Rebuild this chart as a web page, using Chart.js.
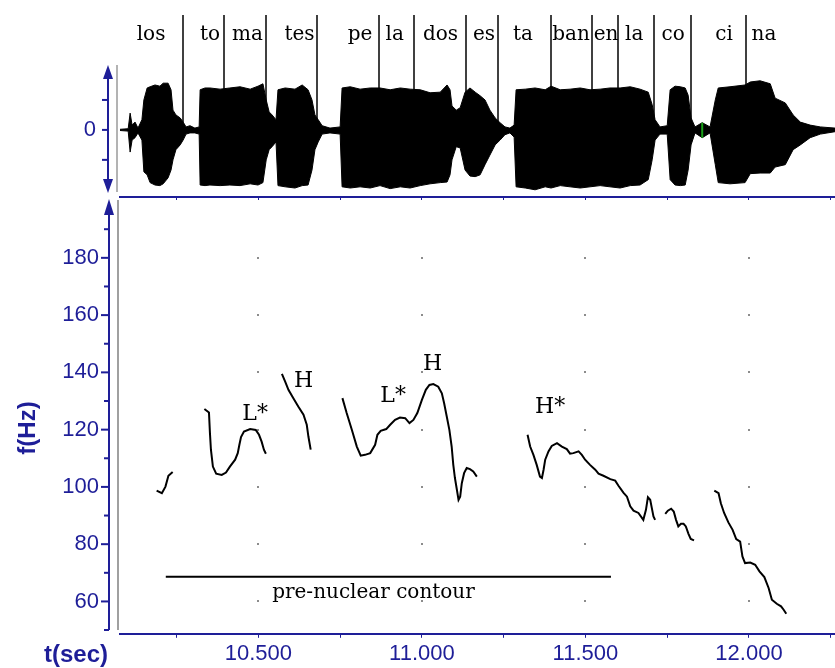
<!DOCTYPE html>
<html lang="es">
<head>
<meta charset="UTF-8">
<title>los tomates pelados estaban en la cocina - F0</title>
<script src="https://cdn.jsdelivr.net/npm/chart.js@4.4.1/dist/chart.umd.min.js"></script>
<style>
  body { margin: 0; background: #fff; }
  #wrap { position: relative; width: 835px; height: 668px; }
  canvas { position: absolute; left: 0; top: 0; }
</style>
</head>
<body>
<div id="wrap">
  <canvas id="f0Chart" width="835" height="668"></canvas>
  <canvas id="waveChart" width="835" height="200"></canvas>
</div>

<script>
// ---- data ----
const xMin = 10.077, xMax = 12.263;
const xTickVals = [10.25, 10.5, 10.75, 11, 11.25, 11.5, 11.75, 12, 12.25];
const yTickVals = [60, 80, 100, 120, 140, 160, 180];
const yMinorVals = [70, 90, 110, 130, 150, 170, 190];

// syllables and their boundaries (s)
const sylText = ['los', 'to', 'ma', 'tes', 'pe', 'la', 'dos', 'es', 'ta', 'ban', 'en', 'la', 'co', 'ci', 'na'];
const sylT = [10.172, 10.352, 10.467, 10.626, 10.811, 10.917, 11.057, 11.190, 11.309, 11.456, 11.563, 11.649, 11.768, 11.924, 12.046];
const boundT = [10.270, 10.395, 10.523, 10.679, 10.870, 10.977, 11.134, 11.232, 11.395, 11.521, 11.600, 11.711, 11.824, 11.991];

// waveform envelope (relative amplitude)
const waveT = [10.077, 10.102, 10.108, 10.114, 10.123, 10.132, 10.144, 10.150, 10.160, 10.169,
  10.184, 10.199, 10.209, 10.224, 10.233, 10.239, 10.248, 10.261, 10.270, 10.279,
  10.291, 10.306, 10.319, 10.322, 10.337, 10.352, 10.383, 10.413, 10.444, 10.475,
  10.499, 10.514, 10.524, 10.533, 10.542, 10.554, 10.560, 10.582, 10.612, 10.634,
  10.652, 10.664, 10.673, 10.683, 10.695, 10.719, 10.750, 10.756, 10.781, 10.811,
  10.842, 10.872, 10.903, 10.934, 10.964, 10.995, 11.025, 11.056, 11.077, 11.086,
  11.092, 11.105, 11.117, 11.132, 11.147, 11.163, 11.178, 11.193, 11.208, 11.224,
  11.239, 11.254, 11.269, 11.282, 11.288, 11.316, 11.346, 11.377, 11.395, 11.423,
  11.453, 11.484, 11.514, 11.545, 11.575, 11.606, 11.637, 11.667, 11.692, 11.704,
  11.713, 11.728, 11.750, 11.759, 11.774, 11.790, 11.805, 11.814, 11.823, 11.835,
  11.857, 11.881, 11.897, 11.906, 11.942, 11.988, 12.004, 12.034, 12.065, 12.080,
  12.111, 12.135, 12.157, 12.187, 12.218, 12.263];
const waveTop = [0.01, 0.02, 0.28, 0.08, 0.13, 0.03, 0.17, 0.5, 0.7, 0.72,
  0.75, 0.73, 0.78, 0.78, 0.67, 0.33, 0.25, 0.2, 0.13, 0.05,
  0.07, 0.03, 0.05, 0.67, 0.7, 0.7, 0.68, 0.7, 0.72, 0.68,
  0.73, 0.77, 0.5, 0.3, 0.25, 0.17, 0.67, 0.7, 0.68, 0.75,
  0.67, 0.5, 0.25, 0.17, 0.07, 0.03, 0.05, 0.7, 0.72, 0.68,
  0.7, 0.7, 0.67, 0.7, 0.68, 0.67, 0.62, 0.63, 0.75, 0.67,
  0.4, 0.33, 0.37, 0.63, 0.7, 0.63, 0.57, 0.5, 0.33, 0.2,
  0.12, 0.05, 0.03, 0.08, 0.67, 0.68, 0.7, 0.67, 0.73, 0.67,
  0.68, 0.7, 0.67, 0.68, 0.7, 0.7, 0.72, 0.68, 0.63, 0.42,
  0.17, 0.05, 0.07, 0.67, 0.73, 0.72, 0.7, 0.58, 0.2, 0.05,
  0.12, 0.05, 0.5, 0.7, 0.72, 0.75, 0.8, 0.82, 0.77, 0.53,
  0.45, 0.25, 0.13, 0.08, 0.05, 0.03];
const waveBottom = [-0.01, -0.02, -0.37, -0.17, -0.13, -0.05, -0.17, -0.7, -0.75, -0.88,
  -0.92, -0.93, -0.9, -0.8, -0.67, -0.5, -0.33, -0.25, -0.17, -0.07,
  -0.05, -0.05, -0.07, -0.92, -0.93, -0.92, -0.93, -0.92, -0.93, -0.9,
  -0.92, -0.88, -0.5, -0.33, -0.28, -0.2, -0.93, -0.95, -0.97, -0.93,
  -0.92, -0.67, -0.33, -0.2, -0.07, -0.05, -0.07, -0.95, -0.97, -0.95,
  -0.97, -0.93, -0.98, -0.95, -0.97, -0.93, -0.9, -0.88, -0.87, -0.75,
  -0.5, -0.28, -0.3, -0.67, -0.77, -0.78, -0.75, -0.58, -0.42, -0.25,
  -0.17, -0.08, -0.05, -0.12, -0.95, -0.97, -1.0, -0.95, -0.97, -0.93,
  -0.95, -0.97, -0.95, -0.93, -0.95, -0.97, -0.93, -0.92, -0.83, -0.5,
  -0.17, -0.07, -0.07, -0.83, -0.92, -0.93, -0.92, -0.67, -0.25, -0.05,
  -0.13, -0.05, -0.58, -0.88, -0.9, -0.88, -0.73, -0.72, -0.72, -0.62,
  -0.58, -0.33, -0.25, -0.13, -0.07, -0.03];
const cursorT = 11.857;

// F0 contour segments (s, Hz)
const losT = [10.189, 10.205, 10.216, 10.225, 10.238];
const losHz = [98.7, 97.8, 100.1, 103.9, 105.2];
const tomaT = [10.335, 10.349, 10.352, 10.355, 10.361, 10.371, 10.388, 10.401, 10.413, 10.429,
  10.437, 10.442, 10.447, 10.456, 10.475, 10.492, 10.502, 10.510, 10.517, 10.523];
const tomaHz = [127.2, 126.0, 118.8, 113.0, 107.1, 104.6, 104.2, 105.0, 107.1, 109.5,
  111.8, 114.7, 117.4, 119.3, 120.2, 119.9, 118.2, 115.8, 113.0, 111.6];
const tesT = [10.572, 10.582, 10.592, 10.607, 10.622, 10.638, 10.648, 10.653, 10.660];
const tesHz = [139.5, 136.8, 133.9, 131.0, 128.1, 125.2, 121.7, 117.6, 113.0];
const peladosT = [10.757, 10.770, 10.786, 10.801, 10.813, 10.826, 10.842, 10.857, 10.864, 10.874,
  10.891, 10.903, 10.918, 10.933, 10.949, 10.962, 10.974, 10.986, 11.000, 11.012,
  11.023, 11.035, 11.050, 11.061, 11.068, 11.076, 11.084, 11.091, 11.096, 11.101,
  11.107, 11.112, 11.117, 11.122, 11.129, 11.137, 11.147, 11.157, 11.168];
const peladosHz = [131.0, 125.8, 119.9, 114.1, 110.9, 111.2, 111.8, 114.7, 118.2, 119.6,
  120.2, 121.7, 123.4, 124.2, 124.0, 122.3, 123.4, 125.8, 130.4, 133.9,
  135.6, 135.9, 135.0, 132.7, 129.2, 124.6, 119.9, 114.1, 107.7, 103.1,
  99.0, 95.5, 96.6, 101.3, 104.8, 106.6, 106.2, 105.4, 103.6];
const tabanT = [11.323, 11.331, 11.341, 11.351, 11.361, 11.367, 11.372, 11.377, 11.387, 11.397,
  11.413, 11.428, 11.443, 11.453, 11.463, 11.479, 11.489, 11.499, 11.514, 11.530,
  11.540, 11.555, 11.576, 11.591, 11.601, 11.616, 11.627, 11.637, 11.647, 11.662,
  11.677, 11.685, 11.691, 11.698, 11.703, 11.708, 11.713];
const tabanHz = [118.2, 114.1, 111.2, 107.7, 103.6, 103.1, 106.0, 109.5, 112.4, 114.3,
  115.3, 114.1, 113.2, 111.6, 111.8, 112.4, 111.2, 109.5, 107.7, 106.0,
  104.6, 103.9, 102.7, 102.2, 100.4, 98.0, 96.6, 93.2, 91.7, 90.9,
  88.5, 92.0, 96.4, 95.5, 92.6, 89.7, 88.5];
const lacoT = [11.744, 11.752, 11.762, 11.770, 11.777, 11.784, 11.792, 11.800, 11.807, 11.815, 11.822, 11.832];
const lacoHz = [90.6, 91.7, 92.4, 91.4, 88.5, 86.2, 87.1, 87.1, 86.2, 83.6, 81.8, 81.3];
const cinaT = [11.894, 11.907, 11.914, 11.924, 11.937, 11.950, 11.961, 11.973, 11.980, 11.988,
  12.004, 12.019, 12.032, 12.047, 12.060, 12.070, 12.085, 12.098, 12.106, 12.114];
const cinaHz = [98.7, 97.8, 94.3, 90.9, 87.6, 85.0, 81.8, 80.9, 75.7, 73.4,
  73.6, 72.8, 70.5, 68.5, 64.7, 60.6, 59.2, 58.3, 57.1, 55.7];

// tone labels and pre-nuclear bracket
const toneText = ['L*', 'H', 'L*', 'H', 'H*'];
const toneT = [10.490, 10.638, 10.912, 11.033, 11.392];
const toneHz = [125.5, 137.0, 131.8, 143.0, 127.8];
const preT = [10.217, 11.578];
const preHz = 68.6;
const preLabel = 'pre-nuclear contour';
const preLabelT = 10.852, preLabelHz = 63.0;

// ---- styles ----
const blue = '#1e1e98';
const sans = '"Liberation Sans", Arial, sans-serif';
const serif = '"DejaVu Serif", serif';

const pts = (ts, vs) => ts.map((t, i) => ({ x: t, y: vs[i] }));

function seg(ts, vs) {
  return { data: pts(ts, vs), borderColor: '#000', borderWidth: 2, pointRadius: 0, fill: false, tension: 0 };
}

function line(ctx, x1, y1, x2, y2) {
  ctx.beginPath(); ctx.moveTo(x1, y1); ctx.lineTo(x2, y2); ctx.stroke();
}

function arrow(ctx, x, tipY, baseY) {
  ctx.beginPath();
  ctx.moveTo(x, tipY);
  ctx.lineTo(x - 5, baseY);
  ctx.lineTo(x + 5, baseY);
  ctx.closePath();
  ctx.fill();
}

// ---- top: waveform ----
const waveDecor = {
  id: 'waveDecor',
  afterDraw(chart) {
    const { ctx, scales: { x, y } } = chart;
    ctx.save();
    ctx.strokeStyle = '#9a9a9a'; ctx.lineWidth = 1.5;
    line(ctx, 117, 65, 117, 192);

    ctx.strokeStyle = '#000'; ctx.lineWidth = 1.5;
    boundT.forEach(t => {
      const px = Math.round(x.getPixelForValue(t));
      line(ctx, px, 15, px, y.getPixelForValue(0.12));
    });

    ctx.fillStyle = '#000';
    ctx.font = '20px ' + serif;
    ctx.textAlign = 'center'; ctx.textBaseline = 'alphabetic';
    sylText.forEach((s, i) => ctx.fillText(s, x.getPixelForValue(sylT[i]), 40));

    // amplitude axis
    ctx.strokeStyle = blue; ctx.fillStyle = blue; ctx.lineWidth = 2;
    line(ctx, 108, 70, 108, 188);
    arrow(ctx, 108, 65, 79);
    arrow(ctx, 108, 193, 179);
    [0.5, 0, -0.5].forEach(v => {
      const py = y.getPixelForValue(v);
      line(ctx, 102, py, 108, py);
    });
    ctx.font = '22px ' + sans;
    ctx.textAlign = 'right'; ctx.textBaseline = 'middle';
    ctx.fillText('0', 96, y.getPixelForValue(0));
    ctx.restore();
  }
};

new Chart(document.getElementById('waveChart'), {
  type: 'line',
  data: {
    datasets: [
      { data: [{ x: cursorT, y: 0.12 }, { x: cursorT, y: -0.13 }], borderColor: '#18a018', borderWidth: 2, pointRadius: 0, fill: false },
      { data: pts(waveT, waveTop), borderColor: '#000', backgroundColor: '#000', borderWidth: 1, pointRadius: 0, fill: '+1' },
      { data: pts(waveT, waveBottom), borderColor: '#000', borderWidth: 1, pointRadius: 0, fill: false }
    ]
  },
  options: {
    responsive: false,
    animation: false,
    layout: { padding: { top: 70, left: 0, right: 0, bottom: 0 } },
    plugins: { legend: { display: false }, tooltip: { enabled: false } },
    scales: {
      x: {
        type: 'linear', min: xMin, max: xMax,
        afterBuildTicks: s => { s.ticks = xTickVals.map(v => ({ value: v })); },
        ticks: { display: false },
        grid: { drawOnChartArea: false, drawTicks: true, tickLength: 3, color: blue },
        border: { color: blue, width: 2 },
        afterFit: s => { s.height = 3; }
      },
      y: {
        min: -1.12, max: 1,
        ticks: { display: false },
        grid: { display: false, drawTicks: false },
        border: { display: false },
        afterFit: s => { s.width = 120; }
      }
    }
  },
  plugins: [waveDecor]
});

// ---- bottom: F0 ----
const f0Decor = {
  id: 'f0Decor',
  beforeDatasetsDraw(chart) {
    const { ctx, scales: { x, y } } = chart;
    ctx.save();
    ctx.fillStyle = '#8c8c8c';
    [10.5, 11, 11.5, 12].forEach(tv => {
      yTickVals.forEach(hv => {
        ctx.fillRect(Math.round(x.getPixelForValue(tv)) - 1, Math.round(y.getPixelForValue(hv)) - 1, 2, 2);
      });
    });
    ctx.restore();
  },
  afterDraw(chart) {
    const { ctx, scales: { x, y } } = chart;
    ctx.save();
    ctx.strokeStyle = '#a0a0a0'; ctx.lineWidth = 2;
    line(ctx, 118, 200, 118, 630);

    // frequency axis
    ctx.strokeStyle = blue; ctx.fillStyle = blue; ctx.lineWidth = 2;
    line(ctx, 109, 205, 109, 630);
    arrow(ctx, 109, 199, 215);
    yTickVals.forEach(v => { const py = y.getPixelForValue(v); line(ctx, 101, py, 109, py); });
    yMinorVals.forEach(v => { const py = y.getPixelForValue(v); line(ctx, 104, py, 109, py); });
    line(ctx, 104, 630, 109, 630);

    ctx.font = 'bold 24px ' + sans;
    ctx.textAlign = 'center'; ctx.textBaseline = 'middle';
    ctx.fillText('t(sec)', 76, 655);
    ctx.save();
    ctx.translate(28, 428);
    ctx.rotate(-Math.PI / 2);
    ctx.fillText('f(Hz)', 0, 0);
    ctx.restore();

    ctx.fillStyle = '#000';
    ctx.font = '22px ' + serif;
    toneText.forEach((s, i) => ctx.fillText(s, x.getPixelForValue(toneT[i]), y.getPixelForValue(toneHz[i])));
    ctx.font = '20px ' + serif;
    ctx.fillText(preLabel, x.getPixelForValue(preLabelT), y.getPixelForValue(preLabelHz));
    ctx.restore();
  }
};

new Chart(document.getElementById('f0Chart'), {
  type: 'line',
  data: {
    datasets: [
      seg(losT, losHz),
      seg(tomaT, tomaHz),
      seg(tesT, tesHz),
      seg(peladosT, peladosHz),
      seg(tabanT, tabanHz),
      seg(lacoT, lacoHz),
      seg(cinaT, cinaHz),
      seg(preT, [preHz, preHz])
    ]
  },
  options: {
    responsive: false,
    animation: false,
    layout: { padding: { top: 200, left: 0, right: 0, bottom: 0 } },
    plugins: { legend: { display: false }, tooltip: { enabled: false } },
    scales: {
      x: {
        type: 'linear', min: xMin, max: xMax,
        afterBuildTicks: s => { s.ticks = xTickVals.map(v => ({ value: v })); },
        ticks: {
          color: blue, font: { family: sans, size: 22 }, padding: 3,
          maxRotation: 0, autoSkip: false,
          callback: v => (v % 0.5 === 0 ? v.toFixed(3) : '')
        },
        grid: { drawOnChartArea: false, drawTicks: true, tickLength: 4, color: blue },
        border: { color: blue, width: 2 },
        afterFit: s => { s.height = 34; }
      },
      y: {
        min: 48.7, max: 200.2,
        afterBuildTicks: s => { s.ticks = yTickVals.map(v => ({ value: v })); },
        ticks: { color: blue, font: { family: sans, size: 22 }, padding: 21 },
        grid: { display: false, drawTicks: false },
        border: { display: false },
        afterFit: s => { s.width = 120; }
      }
    }
  },
  plugins: [f0Decor]
});
</script>
</body>
</html>
